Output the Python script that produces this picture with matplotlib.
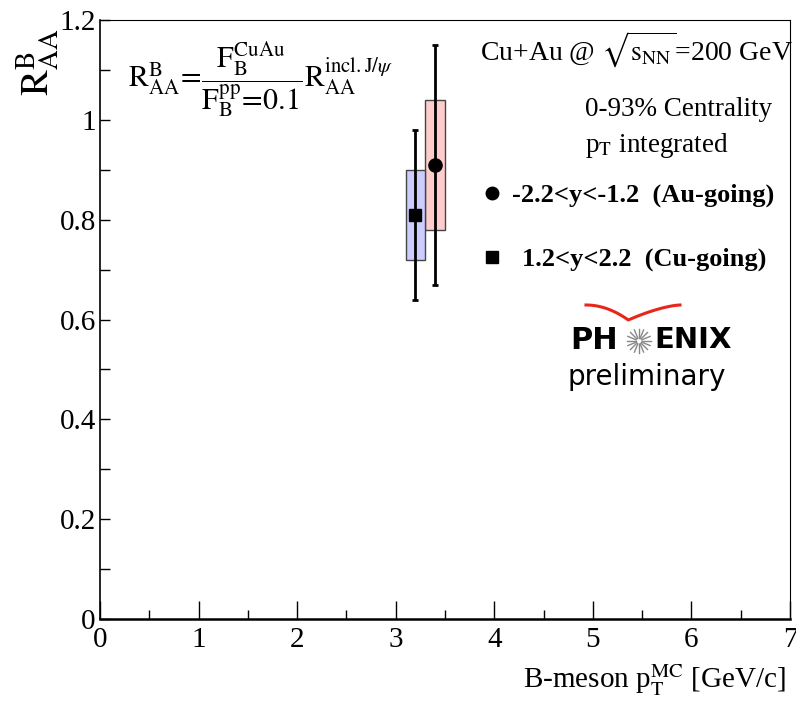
import matplotlib
matplotlib.use("Agg")
import matplotlib.pyplot as plt
import numpy as np
from matplotlib.patches import Rectangle

plt.rcParams['font.family'] = ['Liberation Serif', 'DejaVu Serif']
plt.rcParams['mathtext.fontset'] = 'stix'

# Data
labels = ["-2.2<y<-1.2  (Au-going)", "1.2<y<2.2  (Cu-going)"]
x_vals = [3.4, 3.2]
y_vals = [0.91, 0.81]
stat_lo = [0.67, 0.64]
stat_hi = [1.15, 0.98]
sys_lo = [0.78, 0.72]
sys_hi = [1.04, 0.90]
box_halfwidth = [0.1, 0.1]
markers = ['o', 's']
box_colors = ['#ffcccc', '#ccccff']
x_major = [0, 1, 2, 3, 4, 5, 6, 7]
x_minor = [0.5, 1.5, 2.5, 3.5, 4.5, 5.5, 6.5]
y_major = [0, 0.2, 0.4, 0.6, 0.8, 1.0, 1.2]
y_major_labels = ['0', '0.2', '0.4', '0.6', '0.8', '1', '1.2']
y_minor = [0.1, 0.3, 0.5, 0.7, 0.9, 1.1]

W, H = 796, 706
fig = plt.figure(figsize=(W / 100, H / 100), dpi=100)

def px(x, y):
    return (x / W, 1 - y / H)

ax = fig.add_axes([100 / W, (H - 619) / H, (790 - 100) / W, (619 - 20) / H])
ax.set_xlim(0, 7)
ax.set_ylim(0, 1.2)

for i in range(len(x_vals)):
    ax.add_patch(Rectangle((x_vals[i] - box_halfwidth[i], sys_lo[i]),
                           2 * box_halfwidth[i], sys_hi[i] - sys_lo[i],
                           facecolor=box_colors[i], edgecolor='#444444', lw=1.0, zorder=2))
    ax.errorbar([x_vals[i]], [y_vals[i]],
                yerr=[[y_vals[i] - stat_lo[i]], [stat_hi[i] - y_vals[i]]],
                fmt=markers[i], color='black', ms=9.5 if markers[i] == 'o' else 9,
                elinewidth=2, capsize=2, capthick=2, zorder=3)

ax.set_xticks(x_major)
ax.set_xticks(x_minor, minor=True)
ax.set_xticklabels([str(v) for v in x_major])
ax.set_yticks(y_major)
ax.set_yticks(y_minor, minor=True)
ax.set_yticklabels(y_major_labels)
ax.tick_params(axis='both', which='both', direction='in', top=False, right=False)
ax.tick_params(axis='x', which='major', length=13, width=1, labelsize=21, pad=6)
ax.tick_params(axis='x', which='minor', length=6.5, width=1)
ax.tick_params(axis='y', which='major', length=7.5, width=1, labelsize=21, pad=3)
ax.tick_params(axis='y', which='minor', length=7.5, width=1)
for s in ['top', 'right']:
    ax.spines[s].set_linewidth(0.8)
ax.spines['bottom'].set_linewidth(1.8)
ax.spines['left'].set_linewidth(1.2)

# Axis labels
fig.text(*px(38, 62), r"$\mathrm{R}^{\mathrm{B}}_{\mathrm{AA}}$", rotation=90,
         fontsize=28, ha='center', va='center')
fig.text(*px(786, 680), r"B-meson p$_{\mathrm{T}}^{\mathrm{MC}}$ [GeV/c]",
         fontsize=21, ha='right', va='center')

# Formula
fig.text(*px(128, 80),
         r"$\mathrm{R}^{\mathrm{B}}_{\mathrm{AA}}\!=\!\dfrac{\mathrm{F}^{\mathrm{CuAu}}_{\mathrm{B}}}{\mathrm{F}^{\mathrm{pp}}_{\mathrm{B}}\!=\!0.1}\mathrm{R}^{\mathrm{incl.J/}\psi}_{\mathrm{AA}}$",
         fontsize=21.5, ha='left', va='center')

# Header texts
fig.text(*px(793, 50), r"Cu+Au @ $\sqrt{\mathrm{s}_{\mathrm{NN}}}$=200 GeV",
         fontsize=20, ha='right', va='center')
fig.text(*px(585, 110), "0-93% Centrality", fontsize=19.5, ha='left', va='center')
fig.text(*px(585, 145), r"p$_{\mathrm{T}}$ integrated", fontsize=19.5, ha='left', va='center')

# Legend
leg_y = [193, 257]
leg_tx = [512, 522]
for i in range(len(labels)):
    fig.lines.append(plt.Line2D([492 / W], [1 - leg_y[i] / H], marker=markers[i],
                                color='black', ms=9 if markers[i] == 'o' else 8,
                                transform=fig.transFigure, linestyle='none'))
    fig.text(*px(leg_tx[i], leg_y[i] + 2), labels[i], fontsize=19, fontweight='bold',
             ha='left', va='center')

# PHENIX logo
t = np.linspace(0, 1, 50)
xl = 586 + t * 94
yl = 305 + 15 * np.where(t < 0.45, (t / 0.45) ** 2, ((1 - t) / 0.55) ** 1.5)
fig.lines.append(plt.Line2D(xl / W, 1 - yl / H, color='#e8261c', lw=2.2,
                            transform=fig.transFigure))
fig.text(*px(570, 340), "PH", fontsize=22, fontweight='bold', family='DejaVu Sans',
         ha='left', va='center')
fig.text(*px(654, 340), "ENIX", fontsize=21, fontweight='bold', family='DejaVu Sans',
         ha='left', va='center')
cx, cy = 639, 341
for a in np.linspace(0, 2 * np.pi, 16, endpoint=False):
    fig.lines.append(plt.Line2D([(cx + 3 * np.cos(a)) / W, (cx + 12 * np.cos(a)) / W],
                                [1 - (cy + 3 * np.sin(a)) / H, 1 - (cy + 12 * np.sin(a)) / H],
                                color='#888888', lw=1, transform=fig.transFigure))
fig.text(*px(568, 377), "preliminary", fontsize=20, family='DejaVu Sans',
         ha='left', va='center')

fig.savefig("out.png", dpi=100)
